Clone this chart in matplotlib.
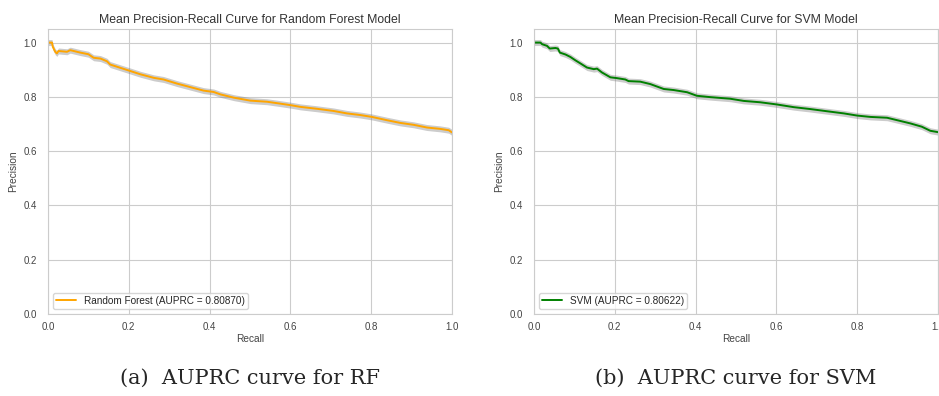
import numpy as np
import matplotlib
matplotlib.use("Agg")
import matplotlib.pyplot as plt
import seaborn as sns

# Mean precision-recall curves
rf_recall = [0.0, 0.01, 0.012, 0.018, 0.022, 0.026, 0.047, 0.055, 0.08, 0.10, 0.113, 0.13,
             0.146, 0.154, 0.179, 0.2, 0.229, 0.262, 0.286, 0.319, 0.352, 0.385, 0.41, 0.427,
             0.46, 0.501, 0.542, 0.575, 0.602, 0.625, 0.666, 0.707, 0.74, 0.773, 0.802,
             0.839, 0.872, 0.905, 0.938, 0.971, 0.992, 1.0]
rf_precision = [1.0, 1.0, 0.984, 0.966, 0.96, 0.969, 0.966, 0.972, 0.963, 0.957, 0.944, 0.941,
                0.931, 0.919, 0.907, 0.897, 0.883, 0.870, 0.864, 0.849, 0.836, 0.823, 0.818,
                0.809, 0.797, 0.786, 0.782, 0.775, 0.769, 0.763, 0.756, 0.748, 0.739, 0.733,
                0.726, 0.714, 0.704, 0.697, 0.687, 0.682, 0.677, 0.669]
rf_std = 0.011

svm_recall = [0.0, 0.016, 0.02, 0.032, 0.039, 0.053, 0.059, 0.064, 0.078, 0.09, 0.102, 0.115,
              0.131, 0.148, 0.156, 0.168, 0.189, 0.205, 0.226, 0.234, 0.263, 0.288, 0.321,
              0.346, 0.379, 0.403, 0.436, 0.486, 0.519, 0.56, 0.601, 0.643, 0.684, 0.725,
              0.767, 0.80, 0.833, 0.874, 0.899, 0.932, 0.96, 0.981, 1.0]
svm_precision = [1.0, 1.0, 0.994, 0.988, 0.978, 0.98, 0.978, 0.963, 0.956, 0.947, 0.935, 0.923,
                 0.908, 0.902, 0.904, 0.89, 0.872, 0.869, 0.864, 0.858, 0.856, 0.847, 0.829,
                 0.825, 0.817, 0.804, 0.799, 0.793, 0.785, 0.780, 0.772, 0.762, 0.755, 0.747,
                 0.739, 0.731, 0.726, 0.723, 0.714, 0.702, 0.69, 0.675, 0.67]
svm_std = 0.011

panels = [
    ("Mean Precision-Recall Curve for Random Forest Model", rf_recall, rf_precision, rf_std,
     "orange", "Random Forest (AUPRC = 0.80870)", "(a)  AUPRC curve for RF"),
    ("Mean Precision-Recall Curve for SVM Model", svm_recall, svm_precision, svm_std,
     "green", "SVM (AUPRC = 0.80622)", "(b)  AUPRC curve for SVM"),
]

sns.set_style("whitegrid")
plt.rcParams['font.family'] = ['Liberation Sans', 'DejaVu Sans']

fig = plt.figure(figsize=(9.39, 3.96), dpi=100)
lefts = [0.0511, 0.5687]

for left, (title, rec, prec, std, color, label, caption) in zip(lefts, panels):
    ax = fig.add_axes([left, 0.2071, 0.4302, 0.7197])
    rec = np.array(rec)
    prec = np.array(prec)
    ax.fill_between(rec, prec - std, prec + std, color="grey", alpha=0.4, lw=0)
    ax.plot(rec, prec, color=color, lw=1.4, label=label)
    ax.set_xlim(0, 1.0)
    ax.set_ylim(0, 1.05)
    ax.set_xticks([0, 0.2, 0.4, 0.6, 0.8, 1.0])
    ax.set_yticks([0, 0.2, 0.4, 0.6, 0.8, 1.0])
    ax.tick_params(axis="x", labelsize=7, pad=2.5, labelcolor="#444444")
    ax.tick_params(axis="y", labelsize=7, pad=4.5, labelcolor="#444444")
    ax.set_title(title, fontsize=8.8, pad=4, color="#333333")
    ax.set_xlabel("Recall", fontsize=7.3, labelpad=1, color="#444444")
    ax.set_ylabel("Precision", fontsize=7.3, labelpad=4, color="#444444")
    ax.legend(loc="lower left", fontsize=7.2, frameon=True, borderpad=0.3)
    fig.text(left + 0.4302 / 2, 0.045, caption, ha="center", va="center",
             fontsize=15, family="DejaVu Serif")

plt.savefig("out.png", dpi=100)
